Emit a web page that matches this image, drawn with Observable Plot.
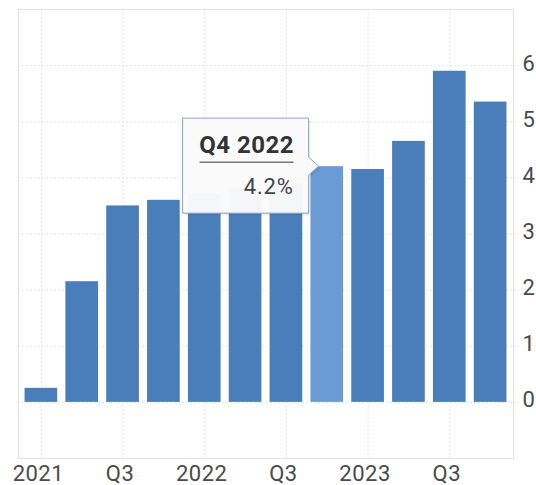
<!DOCTYPE html>
<html><head><meta charset="utf-8">
<script src="https://cdn.jsdelivr.net/npm/d3@7"></script>
<script src="https://cdn.jsdelivr.net/npm/@observablehq/plot@0.6"></script>
<style>body{margin:0;background:#fff;} #chart svg{display:block;}</style>
</head><body><div id="chart"></div>
<script>
const periods = ["Q1 2021","Q2 2021","Q3 2021","Q4 2021","Q1 2022","Q2 2022","Q3 2022","Q4 2022","Q1 2023","Q2 2023","Q3 2023","Q4 2023"];
const values = [0.25, 2.15, 3.5, 3.6, 3.7, 3.8, 3.9, 4.2, 4.15, 4.65, 5.9, 5.35];
const tickPeriods = ["Q1 2021","Q3 2021","Q1 2022","Q3 2022","Q1 2023","Q3 2023"];
const tickLabels = ["2021","Q3","2022","Q3","2023","Q3"];
const yTicks = [0,1,2,3,4,5,6];
const highlight = "Q4 2022";
const tooltipTitle = "Q4 2022";
const tooltipValue = "4.2%";

(function () {
const data = periods.map((p, i) => ({period: p, value: values[i]}));
const labelOf = new Map(tickPeriods.map((p, i) => [p, tickLabels[i]]));
const gridColor = "#e3e3e3";
const textColor = "#4a4a4a";

const plot = Plot.plot({
  width: 536,
  height: 485,
  marginTop: 9,
  marginBottom: 27,
  marginLeft: 18,
  marginRight: 23,
  style: {fontFamily: "Roboto, sans-serif", fontSize: "22px", color: textColor, background: "#fff", letterSpacing: "0.5px"},
  x: {domain: periods, paddingInner: 0.2, paddingOuter: 0.16, round: false, axis: null},
  y: {domain: [-1, 7], axis: null},
  marks: [
    Plot.ruleY(yTicks, {y: d => d, stroke: gridColor, strokeWidth: 1, strokeDasharray: "2,2", insetRight: -6}),
    Plot.ruleX(tickPeriods, {x: d => d, stroke: gridColor, strokeWidth: 1, strokeDasharray: "2,2"}),
    Plot.frame({stroke: gridColor, strokeWidth: 1.2}),
    Plot.barY(data, {x: "period", y: "value", fill: d => d.period === highlight ? "#6a9bd5" : "#4a7ebb"}),
    Plot.axisY({anchor: "right", ticks: yTicks, tickSize: 0, tickPadding: 9, fontSize: 22, dy: -2, fill: textColor, label: null}),
    Plot.axisX({ticks: tickPeriods, tickFormat: d => labelOf.get(d), tickSize: 0, tickPadding: 7, fontSize: 22, dx: -3, fill: textColor, label: null})
  ]
});
document.getElementById("chart").appendChild(plot);

// tooltip anchored at the highlighted bar via the plot's scales
const xs = plot.scale("x"), ys = plot.scale("y");
const hv = values[periods.indexOf(highlight)];
const ax = xs.apply(highlight) + xs.bandwidth * 0.25;
const ay = ys.apply(hv);
const bxR = ax - 10, bxL = bxR - 126, byT = ay - 48, byB = ay + 47;
const svg = d3.select(plot);
const g = svg.append("g");
const pathD = `M${bxL},${byT}H${bxR}V${ay - 9}L${ax},${ay}L${bxR},${ay + 9}V${byB}H${bxL}Z`;
g.append("path").attr("d", pathD).attr("transform", "translate(1.5,2)").attr("fill", "rgba(0,0,0,0.08)");
g.append("path").attr("d", pathD).attr("fill", "rgba(250,250,250,0.97)").attr("stroke", "#87a6cf").attr("stroke-width", 1);
const cx = (bxL + bxR) / 2 + 1;
g.append("text").attr("x", cx).attr("y", ay - 13).attr("text-anchor", "middle")
  .attr("font-family", "Roboto, sans-serif").attr("font-weight", "bold").attr("font-size", 24).attr("letter-spacing", "0.5px").attr("fill", "#333").text(tooltipTitle);
g.append("line").attr("x1", cx - 47).attr("x2", cx + 47).attr("y1", ay - 4).attr("y2", ay - 4).attr("stroke", "#777").attr("stroke-width", 1.5);
g.append("text").attr("x", bxR - 15).attr("y", ay + 28).attr("text-anchor", "end")
  .attr("font-family", "Roboto, sans-serif").attr("font-size", 22).attr("letter-spacing", "0.8px").attr("fill", "#444").text(tooltipValue);
})();
</script>
</body></html>
